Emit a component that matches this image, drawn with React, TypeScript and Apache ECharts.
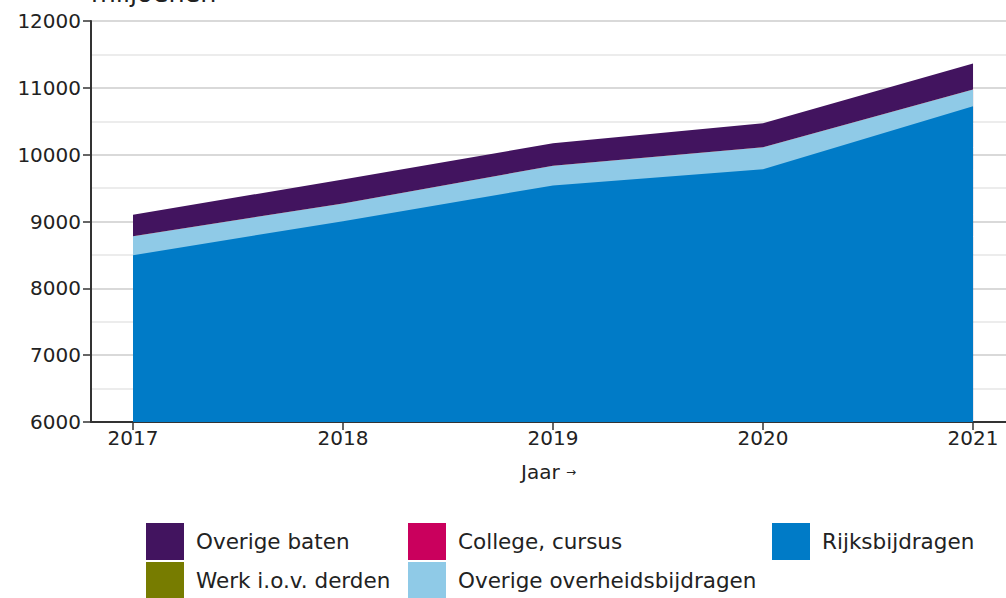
import React, { useEffect, useRef } from "react";
import * as echarts from "echarts";

const years = [2017, 2018, 2019, 2020, 2021];
const rijksbijdragen = [8495, 9005, 9540, 9780, 10725];
const overigeOverheid = [285, 265, 295, 330, 250];
const collegeCursus = [0, 0, 0, 0, 0];
const werkDerden = [0, 0, 0, 0, 0];
const overigeBaten = [320, 360, 335, 360, 390];
const yTicks = [6000, 7000, 8000, 9000, 10000, 11000, 12000];

const FONT = "DejaVu Sans, Verdana, sans-serif";

// stacking order, bottom to top
const seriesDefs = [
  { name: "Rijksbijdragen", data: rijksbijdragen, color: "#007bc7" },
  { name: "Overige overheidsbijdragen", data: overigeOverheid, color: "#8fcae7" },
  { name: "College, cursus", data: collegeCursus, color: "#ca005d" },
  { name: "Werk i.o.v. derden", data: werkDerden, color: "#777c00" },
  { name: "Overige baten", data: overigeBaten, color: "#42145f" },
];

const legendPos: Record<string, [number, number]> = {
  "Overige baten": [146, 523],
  "College, cursus": [408, 523],
  "Rijksbijdragen": [772, 523],
  "Werk i.o.v. derden": [146, 562],
  "Overige overheidsbijdragen": [408, 562],
};

export default function App() {
  const ref = useRef<HTMLDivElement>(null);
  useEffect(() => {
    if (!ref.current) return;
    const chart = echarts.init(ref.current, undefined, { renderer: "svg" });

    // cumulative tops for each layer
    const cum: number[][] = [];
    seriesDefs.forEach((s, k) => {
      cum.push(s.data.map((v, i) => (k > 0 ? cum[k - 1][i] : 0) + v));
    });
    // draw top-most cumulative first so lower layers paint over it
    const series = seriesDefs
      .map((s, k) => ({
        name: s.name,
        type: "line",
        data: cum[k].map((v, i) => [years[i], v]),
        symbol: "none",
        showSymbol: false,
        lineStyle: { width: 0 },
        areaStyle: { color: s.color, opacity: 1, origin: "start" },
        itemStyle: { color: s.color },
        emphasis: { disabled: true },
      }))
      .reverse();

    chart.setOption({
      animation: false,
      textStyle: { fontFamily: FONT },
      grid: { left: 91, right: 0, top: 21, bottom: 176, containLabel: false },
      xAxis: {
        type: "value",
        min: 2016.8,
        max: 2021.157,
        name: "Jaar {a|→}",
        nameLocation: "middle",
        nameGap: 40,
        nameTextStyle: {
          fontSize: 20,
          color: "#222",
          fontFamily: FONT,
          rich: { a: { fontSize: 12, color: "#222", fontFamily: FONT } },
        },
        axisLine: { show: true, lineStyle: { color: "#333", width: 2 } },
        axisTick: { show: true, customValues: years, length: 8, lineStyle: { color: "#333", width: 1.5 } },
        axisLabel: {
          customValues: years,
          fontSize: 20,
          color: "#222",
          margin: 6,
          fontFamily: FONT,
          formatter: (v: number) => String(Math.round(v)),
        },
        splitLine: { show: false },
      },
      yAxis: {
        type: "value",
        min: yTicks[0],
        max: yTicks[yTicks.length - 1],
        interval: 1000,
        axisLine: { show: true, lineStyle: { color: "#333", width: 2 } },
        axisTick: { show: true, length: 8, lineStyle: { color: "#333", width: 1.5 } },
        axisLabel: {
          fontSize: 20,
          color: "#222",
          margin: 10,
          fontFamily: FONT,
          formatter: (v: number) => String(v),
        },
        splitLine: { show: true, lineStyle: { color: "#cccccc", width: 1.5 } },
        minorTick: { show: false, splitNumber: 2 },
        minorSplitLine: { show: true, lineStyle: { color: "#e6e6e6", width: 1.5 } },
      },
      legend: seriesDefs.map((s) => ({
        data: [s.name],
        left: legendPos[s.name][0],
        top: legendPos[s.name][1],
        itemWidth: 38,
        itemHeight: 37,
        icon: "rect",
        padding: 0,
        selectedMode: false,
        textStyle: { fontSize: 21.5, color: "#222", fontFamily: FONT, padding: [0, 0, 0, 7] },
      })),
      graphic: [
        {
          type: "text",
          left: 91,
          top: -20,
          style: { text: "miljoenen", fontSize: 25.5, fill: "#222", fontFamily: FONT },
        },
      ],
      series,
    });
    return () => chart.dispose();
  }, []);
  return <div ref={ref} style={{ width: 1006, height: 598, position: "absolute", left: 0, top: 0 }} />;
}
